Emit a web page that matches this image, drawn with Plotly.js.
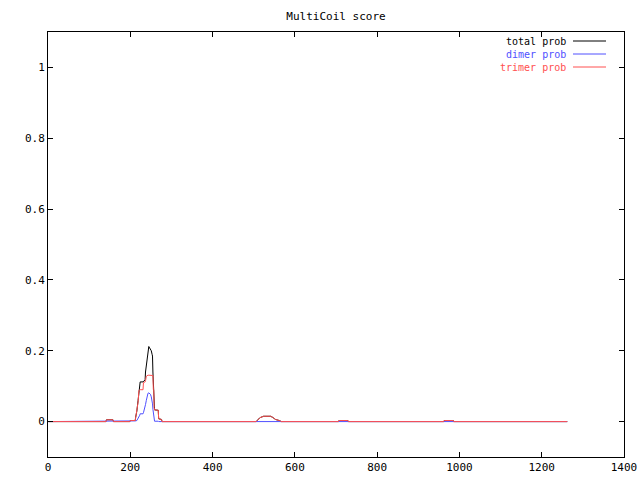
<!DOCTYPE html>
<html>
<head>
<meta charset="utf-8">
<script src="https://cdn.plot.ly/plotly-3.0.1.min.js"></script>
<style>html,body{margin:0;padding:0;background:#fff;}#chart{width:640px;height:480px;}</style>
</head>
<body>
<div id="chart"></div>
<script>
// residue positions (sparse breakpoints of the score profile)
var residue = [1, 141, 142, 158, 159, 199, 200, 212, 213, 216, 219, 221, 223, 224, 231, 232, 236, 237, 239, 241, 243, 245, 247, 249, 251, 253, 254, 255, 256, 257, 258, 259, 268, 269, 276, 277, 506, 509, 515, 524, 541, 546, 553, 565, 566, 706, 707, 729, 730, 962, 963, 985, 986, 1262];
var totalProb = [0, 0, 0.005, 0.005, 0, 0, 0.003, 0.003, 0.012, 0.03, 0.06, 0.09, 0.11, 0.112, 0.112, 0.113, 0.118, 0.14, 0.16, 0.18, 0.205, 0.212, 0.208, 0.205, 0.2, 0.19, 0.185, 0.14, 0.1, 0.08, 0.04, 0.033, 0.032, 0.008, 0.006, 0, 0, 0.004, 0.011, 0.015, 0.015, 0.012, 0.006, 0.002, 0, 0, 0.003, 0.003, 0, 0, 0.003, 0.003, 0, 0];
var dimerProb = [0, 0, 0.002, 0.002, 0, 0, 0.001, 0.001, 0.002, 0.003, 0.008, 0.012, 0.018, 0.022, 0.022, 0.025, 0.04, 0.048, 0.06, 0.075, 0.08, 0.081, 0.08, 0.077, 0.07, 0.06, 0.05, 0.035, 0.02, 0.01, 0.003, 0.001, 0.001, 0, 0, 0, 0, 0, 0, 0, 0, 0, 0, 0, 0, 0, 0.0015, 0.0015, 0, 0, 0.0015, 0.0015, 0, 0];
var trimerProb = [0, 0, 0.005, 0.005, 0, 0, 0.003, 0.003, 0.01, 0.028, 0.055, 0.088, 0.09, 0.09, 0.09, 0.11, 0.112, 0.115, 0.128, 0.131, 0.131, 0.131, 0.131, 0.13, 0.13, 0.13, 0.13, 0.13, 0.09, 0.09, 0.04, 0.033, 0.032, 0.008, 0.006, 0, 0, 0.004, 0.011, 0.015, 0.015, 0.012, 0.006, 0.002, 0, 0, 0.003, 0.003, 0, 0, 0.003, 0.003, 0, 0];
var seriesNames = ['total prob', 'dimer prob', 'trimer prob'];
var seriesColors = ['#000000', '#5050ff', '#ff5050'];
var xTicks = [0, 200, 400, 600, 800, 1000, 1200, 1400];
var yTicks = [0, 0.2, 0.4, 0.6, 0.8, 1];
var yTickText = ['0', '0.2', '0.4', '0.6', '0.8', '1'];

var font = 'DejaVu Sans Mono, monospace';
var series = [totalProb, dimerProb, trimerProb];
var traces = series.map(function (vals, i) {
  return {
    x: residue, y: vals, type: 'scatter', mode: 'lines', name: seriesNames[i],
    line: {color: seriesColors[i], width: 1}, hoverinfo: 'skip'
  };
});

var L = 48, R = 16, T = 32, B = 23, W = 640, H = 480;
var pw = W - L - R, ph = H - T - B;
function px2x(px) { return (px - L) / pw; }
function py2y(py) { return (H - B - py) / ph; }

var legendSize = 10;
var lineGap = legendSize * 1.3;
var midRow = 54;
var legendRows = [midRow - lineGap, midRow, midRow + lineGap];
var legendText = seriesNames.map(function (n, i) {
  return '<span style="color:' + seriesColors[i] + '">' + n + '</span>';
}).join('<br>');
var annotations = [{
  text: legendText, xref: 'paper', yref: 'paper', x: px2x(567), y: py2y(midRow),
  xanchor: 'right', yanchor: 'middle', align: 'right', showarrow: false, borderpad: 0,
  font: {family: font, size: legendSize, color: '#000'}
}];
var shapes = seriesNames.map(function (n, i) {
  return {
    type: 'line', xref: 'paper', yref: 'paper',
    x0: px2x(573), x1: px2x(606), y0: py2y(legendRows[i]), y1: py2y(legendRows[i]),
    line: {color: seriesColors[i], width: 1}
  };
});

var axisCommon = {
  showgrid: false, zeroline: false, showline: true, linecolor: '#000', linewidth: 1,
  mirror: 'ticks', ticks: 'inside', ticklen: 5, tickcolor: '#000', tickwidth: 1,
  tickfont: {family: font, size: 11, color: '#000'}
};

var layout = {
  width: W, height: H, margin: {l: L, r: R, t: T, b: B},
  paper_bgcolor: '#fff', plot_bgcolor: '#fff', showlegend: false,
  title: {text: 'MultiCoil score', x: 0.5, xref: 'paper', y: 1 - 16 / H, yref: 'container',
          xanchor: 'center', yanchor: 'middle', font: {family: font, size: 11, color: '#000'}},
  xaxis: Object.assign({}, axisCommon, {range: [0, 1400], tickvals: xTicks, ticktext: xTicks.map(String)}),
  yaxis: Object.assign({}, axisCommon, {range: [-0.1, 1.1], tickvals: yTicks, ticktext: yTickText}),
  annotations: annotations, shapes: shapes
};

Plotly.newPlot('chart', traces, layout, {staticPlot: true, displayModeBar: false});
</script>
</body>
</html>
